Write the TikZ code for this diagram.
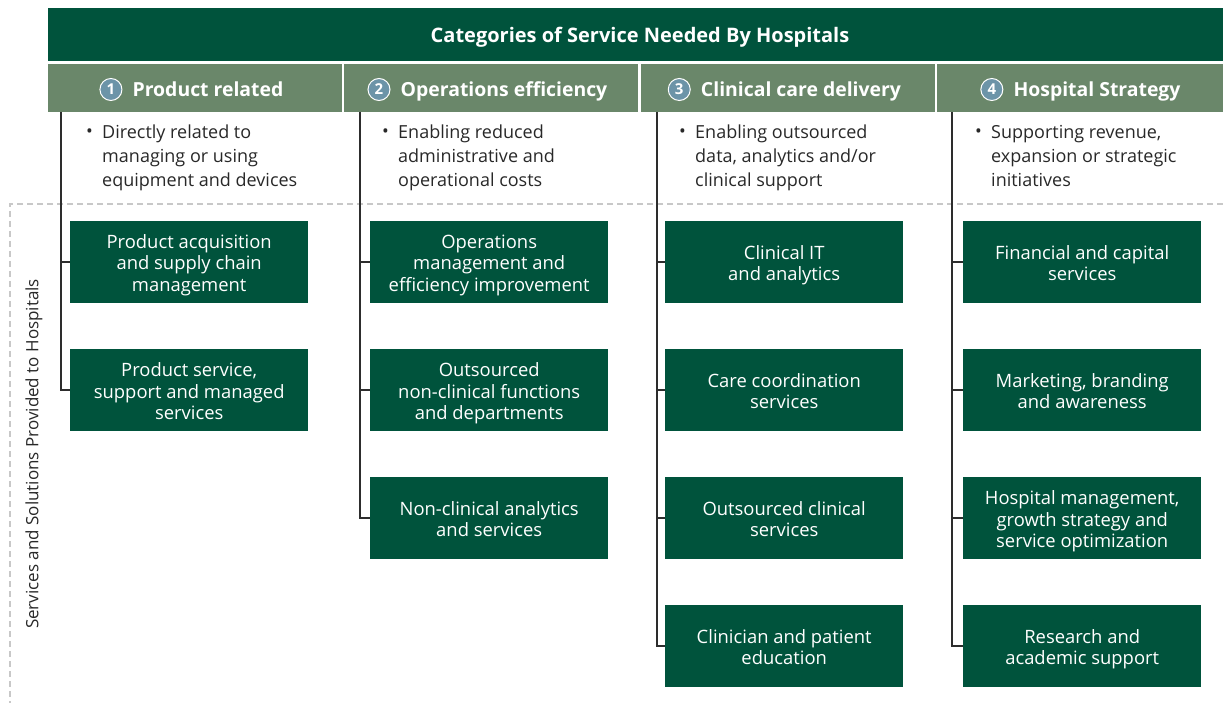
\documentclass[tikz,border=0pt]{standalone}
\usepackage{fontspec}
\setmainfont{Open Sans}
\definecolor{hdr}{RGB}{0,83,60}
\definecolor{subhdr}{RGB}{106,135,106}
\definecolor{badge}{RGB}{108,148,168}
\definecolor{frame}{RGB}{200,200,200}
\definecolor{conn}{RGB}{45,45,45}
\definecolor{body}{RGB}{40,40,40}

% fixed top and bottom struts so every box text sits at the same height
\newcommand\boxtop{\rule{0pt}{21.6pt}}
\newcommand\boxbot{\rule[-6pt]{0pt}{6pt}}

\tikzset{
  maintitle/.style={fill=hdr, inner sep=0pt, anchor=north west,
    minimum width=1175pt, minimum height=53pt},
  titletext/.style={text=white, inner sep=0pt, anchor=base,
    font=\bfseries\fontsize{20}{24}\selectfont},
  colhead/.style={fill=subhdr, inner sep=0pt, anchor=north west,
    minimum width=294pt, minimum height=48pt},
  colname/.style={text=white, inner sep=0pt, anchor=base,
    font=\bfseries\fontsize{19.4}{23}\selectfont},
  numbadge/.style={circle, fill=badge, draw=white, line width=1pt, text=white,
    inner sep=0pt, minimum size=22pt, font=\bfseries\fontsize{15}{17}\selectfont},
  dotmark/.style={anchor=base west, inner sep=0pt, text=body,
    font=\fontsize{18}{24}\selectfont},
  bullettext/.style={anchor=north west, inner sep=0pt, align=left, text=body,
    font=\fontsize{18}{24}\selectfont},
  svcbox/.style={fill=hdr, text=white, inner sep=0pt, anchor=north west, align=center,
    minimum width=238pt, minimum height=82pt,
    font=\fontsize{18.4}{21.4}\selectfont},
  branch/.style={draw=conn, line width=1.6pt},
  sideframe/.style={draw=frame, line width=1.4pt, dash pattern=on 6pt off 4pt},
  sidelabel/.style={rotate=90, inner sep=0pt, text=body,
    font=\fontsize{17}{20}\selectfont}
}

\begin{document}
\begin{tikzpicture}[x=1pt, y=-1pt]
\useasboundingbox (0,0) rectangle (1223,703);

% dashed frame around the services area
\coordinate (fr1) at (1223,204);
\coordinate (fr2) at (10,204);
\coordinate (fr3) at (10,703);
\draw[sideframe] (fr1) -- (fr2) -- (fr3);
\node[sidelabel] (side) at (34,454) {Services and Solutions Provided to Hospitals};

% title bar
\node[maintitle] (title) at (48,8) {};
\node[titletext] (titletext) at (640,42.5) {Categories of Service Needed By Hospitals};

% column headers
\foreach \i/\x/\name in {1/48/Product related, 2/344/Operations efficiency,
                         3/641/Clinical care delivery, 4/937/Hospital Strategy}{
  \node[colhead] (h\i) at (\x,64) {};
  \node[colname] (hn\i) at (\x+160,96.5) {\name};
  \node[numbadge, anchor=east] (nb\i) at ([xshift=-10pt,yshift=7pt]hn\i.base west) {\i};
}

% column descriptions (first baseline at y = 138)
\foreach \i/\x/\txt in {1/48/{Directly related to\\managing or using\\equipment and devices},
                        2/344/{Enabling reduced\\administrative and\\operational costs},
                        3/641/{Enabling outsourced\\data, analytics and/or\\clinical support},
                        4/937/{Supporting revenue,\\expansion or strategic\\initiatives}}{
  \node[dotmark] (dot\i) at (\x+38,138) {\textbullet};
  \node[bullettext] (desc\i) at (\x+54,138-16.8) {\strut\txt};
}

% service boxes
\node[svcbox] (s11) at (70,221)  {\boxtop Product acquisition\\and supply chain\\management\boxbot};
\node[svcbox] (s12) at (70,349)  {\boxtop Product service,\\support and managed\\services\boxbot};

\node[svcbox] (s21) at (370,221) {\boxtop Operations\\management and\\efficiency improvement\boxbot};
\node[svcbox] (s22) at (370,349) {\boxtop Outsourced\\non-clinical functions\\and departments\boxbot};
\node[svcbox] (s23) at (370,477) {\boxtop Non-clinical analytics\\and services\boxbot};

\node[svcbox] (s31) at (665,221) {\boxtop Clinical IT\\and analytics\boxbot};
\node[svcbox] (s32) at (665,349) {\boxtop Care coordination\\services\boxbot};
\node[svcbox] (s33) at (665,477) {\boxtop Outsourced clinical\\services\boxbot};
\node[svcbox] (s34) at (665,605) {\boxtop Clinician and patient\\education\boxbot};

\node[svcbox] (s41) at (963,221) {\boxtop Financial and capital\\services\boxbot};
\node[svcbox] (s42) at (963,349) {\boxtop Marketing, branding\\and awareness\boxbot};
\node[svcbox] (s43) at (963,477) {\boxtop Hospital management,\\growth strategy and\\service optimization\boxbot};
\node[svcbox] (s44) at (963,605) {\boxtop Research and\\academic support\boxbot};

% branch lines from each column header
\coordinate (t1) at (61,112);
\coordinate (t2) at (360,112);
\coordinate (t3) at (657,112);
\coordinate (t4) at (952,112);

\draw[branch] (t1) |- (s12.west);
\draw[branch] (s11.west) -- (s11.west -| t1);

\draw[branch] (t2) |- (s23.west);
\foreach \k in {1,2}{ \draw[branch] (s2\k.west) -- (s2\k.west -| t2); }

\draw[branch] (t3) |- (s34.west);
\foreach \k in {1,2,3}{ \draw[branch] (s3\k.west) -- (s3\k.west -| t3); }

\draw[branch] (t4) |- (s44.west);
\foreach \k in {1,2,3}{ \draw[branch] (s4\k.west) -- (s4\k.west -| t4); }
\end{tikzpicture}
\end{document}
